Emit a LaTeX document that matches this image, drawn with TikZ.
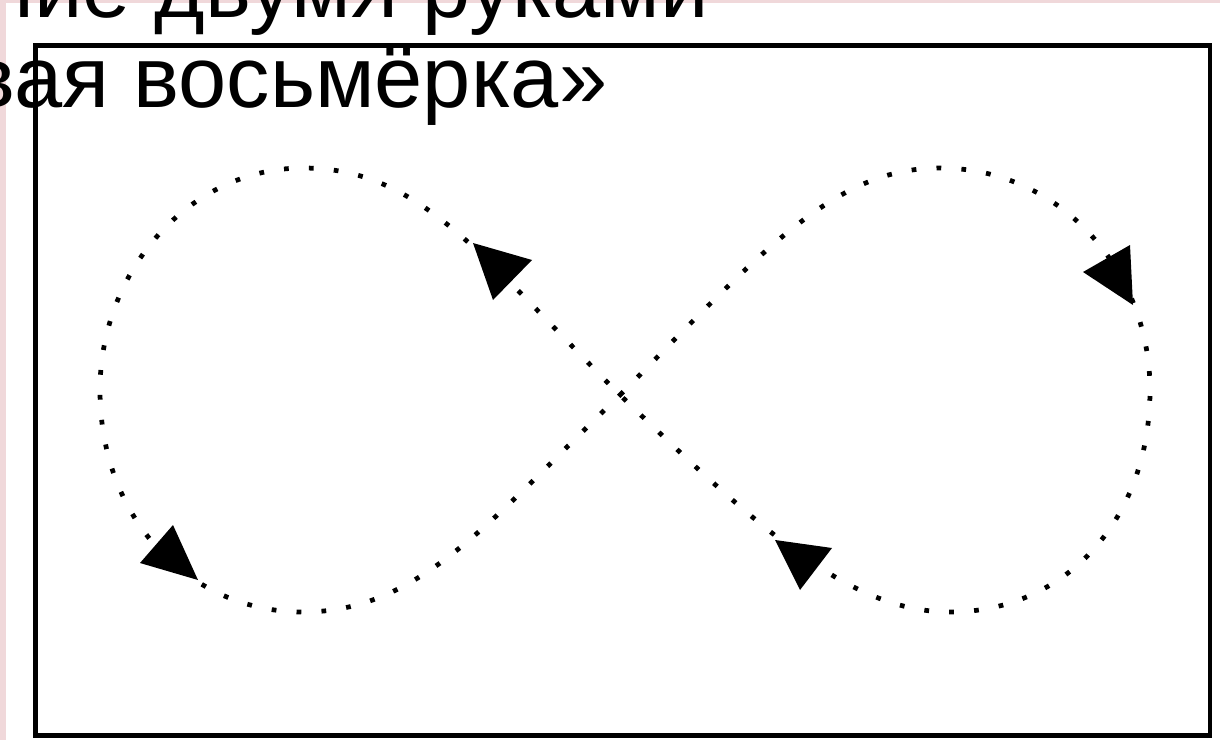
\documentclass[tikz,border=0pt]{standalone}
\usepackage{fontspec}
\setmainfont{Liberation Sans}
\definecolor{pinkbg}{RGB}{240,216,218}
\tikzset{
  dotline/.style={line width=2.7pt, dash pattern=on 2.7pt off 11.5pt},
  framebox/.style={line width=2.8pt},
  headtri/.style={fill=black},
  titletext/.style={anchor=base west, inner sep=0pt, font=\fontsize{49.3}{59}\selectfont}
}
\begin{document}
\begin{tikzpicture}[x=0.02cm,y=-0.02cm]
\useasboundingbox (0,0) rectangle (1220,740);
\fill[white] (0,0) rectangle (1220,740);
\fill[pinkbg] (0,0) rectangle (6,740);
\fill[pinkbg] (0,0) rectangle (1220,3);
\draw[framebox] (35.5,45.5) rectangle (1210,735.5);
% figure eight
\coordinate (C) at (620,395);
\coordinate (TR) at (940,168);
\coordinate (RR) at (1150,390);
\coordinate (BR) at (950,612);
\coordinate (TL) at (303,168);
\coordinate (LL) at (100,390);
\coordinate (BL) at (303,612);
\draw[dotline] (C) .. controls (765,248) and (835,168) .. (TR)
  .. controls (1060,168) and (1150,270) .. (RR)
  .. controls (1150,520) and (1065,612) .. (BR)
  .. controls (850,612) and (760,530) .. (C)
  .. controls (480,255) and (420,168) .. (TL)
  .. controls (190,168) and (100,270) .. (LL)
  .. controls (100,520) and (190,612) .. (BL)
  .. controls (420,612) and (490,520) .. (C);
% arrowheads
\fill[headtri] (473,243) -- (532,260) -- (493,300) -- cycle;
\fill[headtri] (140,563) -- (173,525) -- (198,580) -- cycle;
\fill[headtri] (775,540) -- (832,548) -- (800,590) -- cycle;
\fill[headtri] (1083,272) -- (1130,245) -- (1133,305) -- cycle;
% text
\node[titletext] (line1) at (-14,18) {ние двумя руками};
\node[titletext] (line2) at (-31,108) {вая восьмёрка»};
\end{tikzpicture}
\end{document}
